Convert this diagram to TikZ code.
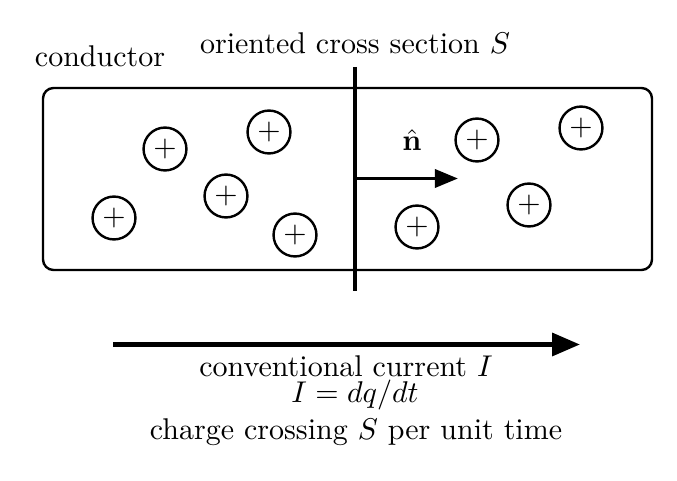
\documentclass[tikz,border=0pt]{standalone}
\usetikzlibrary{arrows.meta}
\begin{document}
\begin{tikzpicture}[x=0.33333pt,y=-0.33333pt,
  charge/.style={circle,draw,line width=0.8pt,minimum size=14.3pt,inner sep=0pt},
  lbl/.style={anchor=base,inner sep=0pt}]
\useasboundingbox (0,0) rectangle (677,481);
% conductor
\draw[line width=0.8pt,rounded corners=3.5pt] (43,88) rectangle (652,270);
% cross section
\coordinate (stop) at (355,67);
\coordinate (sbot) at (355,291);
\draw[line width=1.2pt] (stop) -- (sbot);
% normal
\coordinate (nstart) at (355,178.5);
\coordinate (nend) at (458,178.5);
\draw[line width=1.2pt,-{Triangle[length=7.7pt,width=6pt]}] (nstart) -- (nend);
\node[lbl] (nhat) at (412,151) {$\hat{\mathbf{n}}$};
% charges
\node[charge] (c1) at (165,149) {$+$};
\node[charge] (c2) at (269,132) {$+$};
\node[charge] (c3) at (226,196) {$+$};
\node[charge] (c4) at (114,218) {$+$};
\node[charge] (c5) at (295,235) {$+$};
\node[charge] (c6) at (477,140) {$+$};
\node[charge] (c7) at (581,128) {$+$};
\node[charge] (c8) at (529,205) {$+$};
\node[charge] (c9) at (417,227) {$+$};
% labels
\node[lbl] (cond) at (100,67) {conductor};
\node[lbl] (oriented) at (355,54) {oriented cross section $S$};
% current arrow
\coordinate (astart) at (113,344.5);
\coordinate (aend) at (580,344.5);
\draw[line width=1.6pt,-{Triangle[length=9.3pt,width=7.5pt]}] (astart) -- (aend);
\node[lbl] (conv) at (346,376.5) {conventional current $I$};
\node[lbl] (eq) at (355,402.5) {$I=dq/dt$};
\node[lbl] (desc) at (356,440) {charge crossing $S$ per unit time};
\end{tikzpicture}
\end{document}
